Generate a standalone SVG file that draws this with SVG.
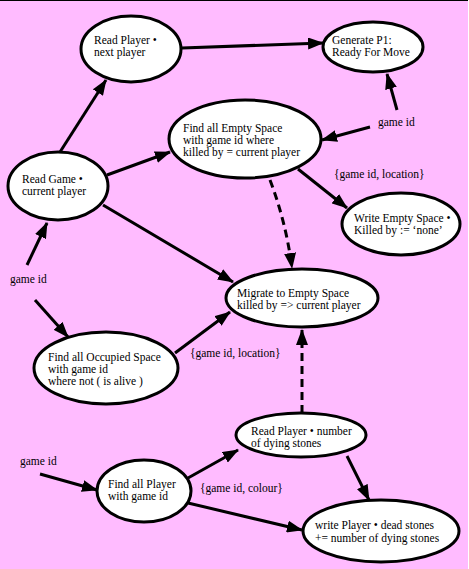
<svg xmlns="http://www.w3.org/2000/svg" width="469" height="569" viewBox="0 0 469 569">
<defs>
<marker id="ah" markerUnits="userSpaceOnUse" markerWidth="16" markerHeight="12" refX="15" refY="6" orient="auto">
<path d="M0,0 L16,6 L0,12 z" fill="#000"/>
</marker>
<style>
.n ellipse{fill:#fff;stroke:#000;stroke-width:3}
.t{font-family:'Liberation Serif','DejaVu Serif',serif;font-size:11.5px;fill:#000}
.e{fill:none;stroke:#000;stroke-width:3;marker-end:url(#ah)}
.d{stroke-dasharray:8,5}
</style>
</defs>
<rect x="0" y="0" width="469" height="569" fill="#FFBBFF"/>
<line x1="0" y1="0.5" x2="469" y2="0.5" stroke="#000" stroke-width="1"/>
<line x1="468.5" y1="0" x2="468.5" y2="569" stroke="#fff" stroke-width="1"/>

<g id="connectors">
<path class="e" d="M60,152 L106,80"/>
<path class="e" d="M182,48 L323,43"/>
<path class="e" d="M107,175 L170,152"/>
<path class="e" d="M397,110 L387,74"/>
<path class="e" d="M370,127 L322,140"/>
<path class="e" d="M298,169 L347,208"/>
<path class="e d" d="M270,180 Q286,222 292,268"/>
<path class="e" d="M103,205 L233,282"/>
<path class="e" d="M27,265 L47,223"/>
<path class="e" d="M35,300 L68,337"/>
<path class="e" d="M175,353 L230,312"/>
<path class="e d" d="M302,413 L302,330"/>
<path class="e" d="M40,474 L97,490"/>
<path class="e" d="M188,478 L238,450"/>
<path class="e" d="M347,456 L369,500"/>
<path class="e" d="M188,503 L302,530"/>
</g>

<g class="t" font-family="Liberation Serif, serif" font-size="11.5">
<g id="readPlayerNext" class="n">
<ellipse cx="131" cy="49" rx="50" ry="33"/>
<text x="94" y="44">Read Player •</text>
<text x="94" y="56">next player</text>
</g>
<g id="generateP1" class="n">
<ellipse cx="373" cy="47" rx="50" ry="25"/>
<text x="332" y="44">Generate P1:</text>
<text x="332" y="56">Ready For Move</text>
</g>
<g id="findEmpty" class="n">
<ellipse cx="245" cy="139" rx="76" ry="39"/>
<text x="183" y="132">Find all Empty Space</text>
<text x="183" y="144">with game id where</text>
<text x="183" y="156">killed by = current player</text>
</g>
<g id="readGame" class="n">
<ellipse cx="58" cy="186" rx="50" ry="34"/>
<text x="22" y="183">Read Game •</text>
<text x="22" y="195">current player</text>
</g>
<g id="writeEmpty" class="n">
<ellipse cx="401" cy="224" rx="59" ry="31"/>
<text x="354" y="222">Write Empty Space •</text>
<text x="354" y="234">Killed by := ‘none’</text>
</g>
<g id="migrate" class="n">
<ellipse cx="302" cy="298" rx="76" ry="29"/>
<text x="237" y="297">Migrate to Empty Space</text>
<text x="237" y="309">killed by =&gt; current player</text>
</g>
<g id="findOccupied" class="n">
<ellipse cx="106" cy="368" rx="72" ry="36"/>
<text x="48" y="361">Find all Occupied Space</text>
<text x="48" y="373">with game id</text>
<text x="48" y="385">where not ( is alive )</text>
</g>
<g id="readPlayerDying" class="n">
<ellipse cx="301" cy="435" rx="65" ry="22"/>
<text x="251" y="435">Read Player • number</text>
<text x="251" y="447">of dying stones</text>
</g>
<g id="findPlayer" class="n">
<ellipse cx="144" cy="491" rx="47" ry="31"/>
<text x="108" y="488">Find all Player</text>
<text x="108" y="500">with game id</text>
</g>
<g id="writePlayer" class="n">
<ellipse cx="381" cy="531" rx="78" ry="31"/>
<text x="315" y="529">write Player • dead stones</text>
<text x="315" y="542">+= number of dying stones</text>
</g>

<g id="labels">
<text x="378" y="126">game id</text>
<text x="334" y="178">{game id, location}</text>
<text x="10" y="283">game id</text>
<text x="190" y="357">{game id, location}</text>
<text x="20" y="465">game id</text>
<text x="200" y="492">{game id, colour}</text>
</g>
</g>
</svg>
